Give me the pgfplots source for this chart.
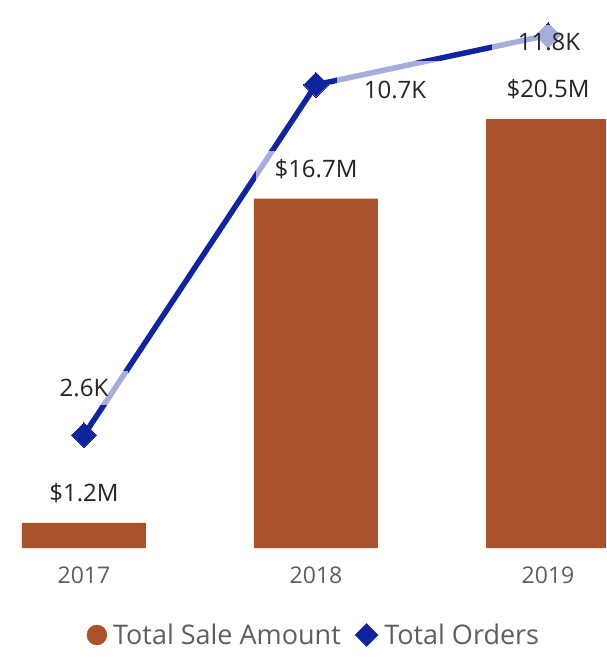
\documentclass[border=0pt]{standalone}
\usepackage{pgfplots}
\pgfplotsset{compat=1.18}
\usepackage{fontspec}
\setmainfont{Open Sans}
\definecolor{barc}{HTML}{AA522B}
\definecolor{linec}{HTML}{12239E}
\definecolor{tickc}{HTML}{605E5C}
\definecolor{labc}{HTML}{252423}
\tikzset{
  lab/.style={
    font=\fontsize{24}{28}\selectfont, text=labc,
    fill=white, fill opacity=0.63, text opacity=1,
    anchor=center,
  },
}
\pgfplotsset{
  /pgf/number format/assume math mode=true,
  base/.style={
    at={(0,0)}, anchor=south west,
    scale only axis, width=606pt, height=548pt,
    xmin=-0.362, xmax=2.25,
    axis line style={draw=none},
    major tick length=0pt,
    ytick=\empty,
  },
}
\begin{document}
\begin{tikzpicture}
% bars (sale amount, millions)
\begin{axis}[base,
    ymin=0, ymax=26.2,
    xtick={0,1,2},
    xticklabels={2017,2018,2019},
    xticklabel style={font=\fontsize{23}{28}\selectfont, text=tickc, anchor=center, yshift=-27pt},
]
\addplot[ybar, bar width=124pt, fill=barc, draw=none] coordinates {(0,1.2) (1,16.7) (2,20.5)};
\end{axis}

% line (orders, thousands)
\begin{axis}[base, ymin=0, ymax=12.61, xtick=\empty]
\addplot[color=linec, line width=5.5pt, line join=round,
    mark=square*, mark size=8.7pt, mark options={rotate=45, line width=0pt}]
    coordinates {(0,2.6) (1,10.66) (2,11.8)};
\end{axis}

% bar labels
\begin{axis}[base, ymin=0, ymax=26.2, xtick=\empty]
\addplot[draw=none, mark=none, point meta=y,
    nodes near coords={\$\pgfmathprintnumber[fixed,precision=1,fixed zerofill]{\pgfplotspointmeta}M},
    every node near coord/.style={lab, inner xsep=19pt, inner ysep=8pt, yshift=30pt}]
    coordinates {(0,1.2) (1,16.7) (2,20.5)};
\end{axis}

% line labels and legend
\begin{axis}[base, ymin=0, ymax=12.61, xtick=\empty,
    legend columns=2,
    legend style={at={(0.518,-0.1588)}, anchor=center, draw=none, fill=none,
        font=\fontsize{27}{32}\selectfont, text=tickc,
        /tikz/every odd column/.append style={column sep=4pt},
        /tikz/every even column/.append style={column sep=12pt}},
]
\addlegendimage{legend image code/.code={\fill[barc] (10pt,0pt) circle (10pt);}}
\addlegendentry{Total Sale Amount}
\addlegendimage{legend image code/.code={\fill[linec] (11.5pt,0pt) -- (0pt,11.5pt) -- (-11.5pt,0pt) -- (0pt,-11.5pt) -- cycle;}}
\addlegendentry{Total Orders}
\addplot[forget plot, draw=none, mark=none, point meta=y,
    nodes near coords={\pgfmathprintnumber[fixed,precision=1,fixed zerofill]{\pgfplotspointmeta}K},
    every node near coord/.style={lab, inner xsep=20pt, inner ysep=8pt, yshift=47pt}]
    coordinates {(0,2.6)};
\addplot[forget plot, draw=none, mark=none, point meta=y,
    nodes near coords={\pgfmathprintnumber[fixed,precision=1,fixed zerofill]{\pgfplotspointmeta}K},
    every node near coord/.style={lab, inner xsep=27pt, inner ysep=20pt, xshift=79pt, yshift=-5pt}]
    coordinates {(1,10.66)};
\addplot[forget plot, draw=none, mark=none, point meta=y,
    nodes near coords={\pgfmathprintnumber[fixed,precision=1,fixed zerofill]{\pgfplotspointmeta}K},
    every node near coord/.style={lab, inner xsep=26pt, inner ysep=8pt, xshift=1pt, yshift=-7pt}]
    coordinates {(2,11.8)};
\end{axis}
\pgfresetboundingbox
\path[use as bounding box] (0,-114pt) rectangle (606pt,548pt);
\end{tikzpicture}
\end{document}
